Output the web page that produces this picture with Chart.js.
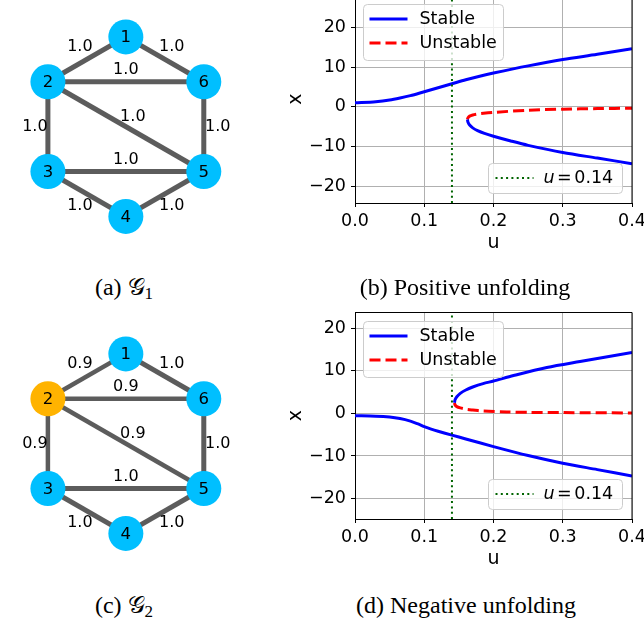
<!DOCTYPE html>
<html>
<head>
<meta charset="utf-8">
<script src="https://cdn.jsdelivr.net/npm/chart.js@4/dist/chart.umd.min.js"></script>
<style>
  body { margin: 0; width: 644px; height: 621px; overflow: hidden; background: #fff; position: relative; }
  canvas { position: absolute; }
  .cap { position: absolute; font-family: "Liberation Serif", "Times New Roman", serif; font-size: 24px; line-height: 24px;
         color: #000; white-space: nowrap; transform: translateX(-50%); }
  .cap sub { font-size: 17px; vertical-align: -4px; line-height: 0; }
</style>
</head>
<body>
<canvas id="graph1" width="252" height="253" style="left:0px;top:0px"></canvas>
<canvas id="graph2" width="252" height="253" style="left:0px;top:317px"></canvas>
<canvas id="plotPos"></canvas>
<canvas id="plotNeg"></canvas>

<div class="cap" style="left:124px;top:275px">(a) 𝒢<sub>1</sub></div>
<div class="cap" style="left:465px;top:275px">(b) Positive unfolding</div>
<div class="cap" style="left:124px;top:593px">(c) 𝒢<sub>2</sub></div>
<div class="cap" style="left:466px;top:593px">(d) Negative unfolding</div>

<script>
// ======== DATI: GRAFO ========
const nodeNames = ['1', '2', '3', '4', '5', '6'];
const nodeX = [0, -1, -1, 0, 1, 1];
const nodeY = [1, 0.5, -0.5, -1, -0.5, 0.5];
const edges = [[1, 2], [1, 6], [2, 6], [2, 5], [2, 3], [6, 5], [3, 5], [3, 4], [4, 5]];
const weightsG1 = [1.0, 1.0, 1.0, 1.0, 1.0, 1.0, 1.0, 1.0, 1.0];
const weightsG2 = [0.9, 1.0, 0.9, 0.9, 0.9, 1.0, 1.0, 1.0, 1.0];
const leadersG1 = [];
const leadersG2 = ['2'];

// ======== DATI: UNFOLDING ========
const uTicks = [0, 0.1, 0.2, 0.3, 0.4];
const xTicks = [-20, -10, 0, 10, 20];
const uMarker = 0.14;

// (b) positive unfolding
const posUpperU = [0, 0.03, 0.05, 0.065, 0.08, 0.1, 0.12, 0.14, 0.16, 0.18, 0.2, 0.25, 0.3, 0.35, 0.4];
const posUpperX = [1.0, 1.3, 1.7, 2.2, 2.8, 3.8, 4.8, 5.8, 6.8, 7.7, 8.5, 10.3, 11.9, 13.2, 14.6];
const posLowerU = [0.1624, 0.1632, 0.1655, 0.17, 0.177, 0.187, 0.2, 0.225, 0.25, 0.3, 0.35, 0.4];
const posLowerX = [-3.2, -3.9, -4.6, -5.3, -6.0, -6.7, -7.4, -8.6, -9.7, -11.5, -12.9, -14.3];
const posUnstableU = [0.1624, 0.1632, 0.1655, 0.17, 0.177, 0.1855, 0.2, 0.25, 0.3, 0.35, 0.4];
const posUnstableX = [-3.2, -2.75, -2.35, -2.05, -1.8, -1.62, -1.4, -0.85, -0.6, -0.45, -0.35];

// (d) negative unfolding
const negLowerU = [0, 0.03, 0.05, 0.065, 0.08, 0.09, 0.1, 0.11, 0.12, 0.14, 0.16, 0.2, 0.25, 0.3, 0.35, 0.4];
const negLowerX = [-0.55, -0.65, -0.85, -1.2, -1.8, -2.4, -3.1, -3.7, -4.2, -5.1, -6.0, -7.8, -9.9, -11.7, -13.2, -14.7];
const negUpperU = [0.1437, 0.1445, 0.147, 0.152, 0.16, 0.17, 0.185, 0.2, 0.229, 0.277, 0.325, 0.4];
const negUpperX = [2.5, 3.2, 3.9, 4.7, 5.5, 6.2, 7.0, 7.6, 8.9, 10.8, 12.2, 14.3];
const negUnstableU = [0.1437, 0.1445, 0.147, 0.152, 0.16, 0.17, 0.1855, 0.219, 0.25, 0.3, 0.4];
const negUnstableX = [2.5, 2.0, 1.6, 1.3, 1.0, 0.8, 0.55, 0.35, 0.25, 0.2, 0.1];

// ======== STILI ========
const NODE_COLOR = '#00bfff';
const LEADER_COLOR = '#ffb300';
const EDGE_COLOR = '#5c5c5c';
const FONT = '"DejaVu Sans"';
const FONT_SIZE = 17.5;
const TITLE_SIZE = 19;
// spostamento (px) delle etichette dei pesi rispetto al centro dell'arco
const labelNudge = [[-7, -12], [7, -12], [0, -12], [7, -10], [-13, 0], [14, 0], [0, -12], [-7, 12], [7, 12]];

// ======== GRAFI ========
function graphLabels(weights) {
    return {
        id: 'graphLabels',
        afterDatasetsDraw(chart) {
            const { ctx, scales: { x, y } } = chart;
            ctx.save();
            ctx.textAlign = 'center';
            ctx.textBaseline = 'middle';
            ctx.fillStyle = '#000';
            ctx.font = '16px ' + FONT;
            edges.forEach((e, k) => {
                const a = e[0] - 1, b = e[1] - 1;
                const px = (x.getPixelForValue(nodeX[a]) + x.getPixelForValue(nodeX[b])) / 2 + labelNudge[k][0];
                const py = (y.getPixelForValue(nodeY[a]) + y.getPixelForValue(nodeY[b])) / 2 + labelNudge[k][1];
                ctx.fillText(weights[k].toFixed(1), px, py);
            });
            ctx.font = '16.5px ' + FONT;
            nodeNames.forEach((n, i) => {
                ctx.fillText(n, x.getPixelForValue(nodeX[i]), y.getPixelForValue(nodeY[i]) + 1);
            });
            ctx.restore();
        }
    };
}

function drawGraph(canvasId, weights, leaders) {
    const pts = nodeNames.map((n, i) => ({ x: nodeX[i], y: nodeY[i] }));
    const datasets = edges.map((e, k) => ({
        data: [pts[e[0] - 1], pts[e[1] - 1]],
        showLine: true,
        borderColor: EDGE_COLOR,
        borderWidth: 5 * weights[k],
        pointRadius: 0,
        clip: false,
        order: 1
    }));
    datasets.push({
        data: pts,
        showLine: false,
        pointRadius: 17.5,
        pointBorderWidth: 0,
        pointBackgroundColor: nodeNames.map(n => leaders.includes(n) ? LEADER_COLOR : NODE_COLOR),
        clip: false,
        order: 0
    });
    const ctx = document.getElementById(canvasId).getContext('2d');
    return new Chart(ctx, {
        type: 'scatter',
        data: { datasets },
        options: {
            responsive: false,
            animation: false,
            layout: { padding: 0 },
            plugins: { legend: { display: false }, tooltip: { enabled: false } },
            scales: {
                x: { display: false, min: -1.39, max: 1.394 },
                y: { display: false, min: -1.213, max: 1.216 }
            }
        },
        plugins: [graphLabels(weights)]
    });
}

// ======== UNFOLDING PLOTS ========
function pairs(us, xs) {
    return us.map((u, i) => ({ x: u, y: xs[i] }));
}

function roundRect(ctx, x, y, w, h, r) {
    ctx.beginPath();
    ctx.moveTo(x + r, y);
    ctx.arcTo(x + w, y, x + w, y + h, r);
    ctx.arcTo(x + w, y + h, x, y + h, r);
    ctx.arcTo(x, y + h, x, y, r);
    ctx.arcTo(x, y, x + w, y, r);
    ctx.closePath();
}

// legende + bordi superiore/destro
const unfoldingDecor = {
    id: 'unfoldingDecor',
    afterDraw(chart) {
        const ctx = chart.ctx;
        const ca = chart.chartArea;
        ctx.save();
        // spine top/right
        ctx.strokeStyle = '#000';
        ctx.lineWidth = 1;
        ctx.beginPath();
        ctx.moveTo(ca.left, ca.top);
        ctx.lineTo(ca.right, ca.top);
        ctx.lineTo(ca.right, ca.bottom);
        ctx.stroke();

        ctx.font = FONT_SIZE + 'px ' + FONT;
        ctx.textBaseline = 'middle';
        ctx.textAlign = 'left';

        // legenda in alto a sinistra
        let bx = ca.left + 8.5, by = ca.top + 9;
        roundRect(ctx, bx, by, 140, 56, 4);
        ctx.fillStyle = 'rgba(255,255,255,0.8)';
        ctx.fill();
        ctx.strokeStyle = '#cccccc';
        ctx.stroke();
        ctx.lineWidth = 3;
        ctx.strokeStyle = '#0000ff';
        ctx.beginPath(); ctx.moveTo(bx + 6, by + 14.5); ctx.lineTo(bx + 44, by + 14.5); ctx.stroke();
        ctx.strokeStyle = '#ff0000';
        ctx.setLineDash([11, 5]);
        ctx.beginPath(); ctx.moveTo(bx + 6, by + 38.5); ctx.lineTo(bx + 44, by + 38.5); ctx.stroke();
        ctx.setLineDash([]);
        ctx.fillStyle = '#000';
        ctx.fillText('Stable', bx + 56, by + 14.5);
        ctx.fillText('Unstable', bx + 56, by + 38.5);

        // legenda in basso a destra
        bx = ca.right - 143.5; by = ca.bottom - 39.5;
        ctx.lineWidth = 1;
        roundRect(ctx, bx, by, 134, 30, 4);
        ctx.fillStyle = 'rgba(255,255,255,0.8)';
        ctx.fill();
        ctx.strokeStyle = '#cccccc';
        ctx.stroke();
        ctx.lineWidth = 2;
        ctx.strokeStyle = '#006400';
        ctx.setLineDash([2, 3.3]);
        ctx.beginPath(); ctx.moveTo(bx + 7, by + 14.5); ctx.lineTo(bx + 45, by + 14.5); ctx.stroke();
        ctx.setLineDash([]);
        ctx.fillStyle = '#000';
        // "u = 0.14" in stile mathtext
        let tx = bx + 55;
        ctx.font = 'italic ' + FONT_SIZE + 'px ' + FONT;
        ctx.fillText('u', tx, by + 14.5);
        tx += ctx.measureText('u').width + 2.5;
        ctx.font = FONT_SIZE + 'px ' + FONT;
        ctx.fillText('=', tx, by + 14.5);
        tx += ctx.measureText('=').width + 2.5;
        ctx.fillText('0.14', tx, by + 14.5);
        ctx.restore();
    }
};

function unfoldingConfig(branches, yMin, yMax) {
    const datasets = branches.map(b => ({
        data: b.data,
        showLine: true,
        borderColor: b.color,
        borderWidth: 3,
        borderDash: b.dash || [],
        pointRadius: 0,
        tension: 0.3,
        fill: false,
        order: 1
    }));
    // linea verticale u = 0.14
    datasets.push({
        data: [{ x: uMarker, y: yMin }, { x: uMarker, y: yMax }],
        showLine: true,
        borderColor: '#006400',
        borderWidth: 2,
        borderDash: [2, 3.3],
        pointRadius: 0,
        order: 0
    });
    const tickFont = { family: 'DejaVu Sans', size: FONT_SIZE };
    const titleFont = { family: 'DejaVu Sans', size: TITLE_SIZE };
    return {
        type: 'scatter',
        data: { datasets },
        options: {
            responsive: false,
            animation: false,
            layout: { padding: { top: 12, right: 40, bottom: 0, left: 0 } },
            plugins: { legend: { display: false }, tooltip: { enabled: false } },
            scales: {
                x: {
                    type: 'linear', min: 0, max: 0.4,
                    afterBuildTicks: s => { s.ticks = uTicks.map(v => ({ value: v })); },
                    afterFit: s => { s.height = 57; },
                    ticks: { callback: v => v.toFixed(1), font: tickFont, color: '#000', padding: 4, maxRotation: 0, autoSkip: false },
                    grid: { color: '#b0b0b0', lineWidth: 1, tickColor: '#000', tickLength: 4 },
                    border: { color: '#000', width: 1 },
                    title: { display: true, text: 'u', font: titleFont, color: '#000', padding: { top: 0, bottom: 6 } }
                },
                y: {
                    type: 'linear', min: yMin, max: yMax,
                    afterBuildTicks: s => { s.ticks = xTicks.map(v => ({ value: v })); },
                    afterFit: s => { s.width = 70; },
                    ticks: { callback: v => (v < 0 ? '\u2212' + Math.abs(v) : String(v)), font: tickFont, color: '#000', padding: 5 },
                    grid: { color: '#b0b0b0', lineWidth: 1, tickColor: '#000', tickLength: 4 },
                    border: { color: '#000', width: 1 },
                    title: { display: true, text: 'x', font: titleFont, color: '#000', padding: { top: 0, bottom: 0 } }
                }
            }
        },
        plugins: [unfoldingDecor]
    };
}

// area = {left, top, w, h} dell'area dati in pixel della pagina
function drawUnfolding(canvasId, branches, yMin, yMax, area) {
    const canvas = document.getElementById(canvasId);
    canvas.width = 70 + area.w + 40;
    canvas.height = 12 + area.h + 57;
    let chart = new Chart(canvas.getContext('2d'), unfoldingConfig(branches, yMin, yMax));
    let ca = chart.chartArea;
    const dw = Math.round(area.w - (ca.right - ca.left));
    const dh = Math.round(area.h - (ca.bottom - ca.top));
    if (dw !== 0 || dh !== 0) {
        // correggo le dimensioni e ridisegno
        const w = canvas.width + dw, h = canvas.height + dh;
        chart.destroy();
        canvas.width = w;
        canvas.height = h;
        chart = new Chart(canvas.getContext('2d'), unfoldingConfig(branches, yMin, yMax));
        ca = chart.chartArea;
    }
    canvas.style.left = (area.left - ca.left) + 'px';
    canvas.style.top = (area.top - ca.top) + 'px';
    return chart;
}

drawGraph('graph1', weightsG1, leadersG1);
drawGraph('graph2', weightsG2, leadersG2);

drawUnfolding('plotPos', [
    { data: pairs(posUpperU, posUpperX), color: '#0000ff' },
    { data: pairs(posLowerU, posLowerX), color: '#0000ff' },
    { data: pairs(posUnstableU, posUnstableX), color: '#ff0000', dash: [11, 5] }
], -24.2, 28, { left: 354.7, top: -4.3, w: 277, h: 207 });

drawUnfolding('plotNeg', [
    { data: pairs(negLowerU, negLowerX), color: '#0000ff' },
    { data: pairs(negUpperU, negUpperX), color: '#0000ff' },
    { data: pairs(negUnstableU, negUnstableX), color: '#ff0000', dash: [11, 5] }
], -24.8, 23.7, { left: 354.7, top: 312.7, w: 277, h: 206 });
</script>
</body>
</html>
